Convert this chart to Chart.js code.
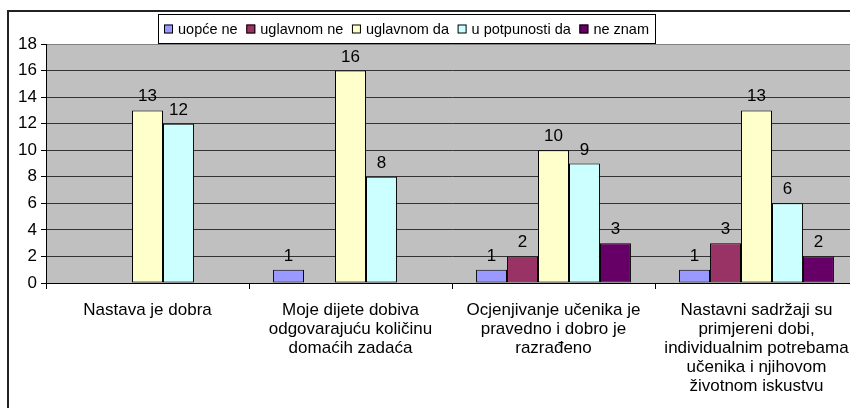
<!DOCTYPE html>
<html>
<head>
<meta charset="utf-8">
<script src="https://cdn.jsdelivr.net/npm/chart.js@4.4.1/dist/chart.umd.min.js"></script>
<style>
  html, body { margin: 0; padding: 0; background: #fff; overflow: hidden; }
  #wrap { position: absolute; left: 0; top: 0; width: 870px; height: 408px; }
</style>
</head>
<body>
<div id="wrap"><canvas id="barChart" width="870" height="408"></canvas></div>
<script>
// categories (multi line labels)
var categories = [
  ["Nastava je dobra"],
  ["Moje dijete dobiva", "odgovarajuću količinu", "domaćih zadaća"],
  ["Ocjenjivanje učenika je", "pravedno i dobro je", "razrađeno"],
  ["Nastavni sadržaji su", "primjereni dobi,", "individualnim potrebama", "učenika i njihovom", "životnom iskustvu"]
];
var seriesNames = ["uopće ne", "uglavnom ne", "uglavnom da", "u potpunosti da", "ne znam"];
var uopceNe = [null, 1, 1, 1];
var uglavnomNe = [null, null, 2, 3];
var uglavnomDa = [13, 16, 10, 13];
var uPotpunostiDa = [12, 8, 9, 6];
var neZnam = [null, null, 3, 2];
var yMax = 18;
var yStep = 2;

var colors = ["#9999FF", "#993366", "#FFFFCC", "#CCFFFF", "#660066"];
var allData = [uopceNe, uglavnomNe, uglavnomDa, uPotpunostiDa, neZnam];

Chart.defaults.font.family = "'Liberation Sans', Arial, sans-serif";
Chart.defaults.font.size = 17;
Chart.defaults.color = "#000";

var datasets = [];
for (var i = 0; i < seriesNames.length; i++) {
  datasets.push({
    label: seriesNames[i],
    data: allData[i],
    backgroundColor: colors[i],
    borderColor: "#000",
    borderWidth: 1,
    borderSkipped: false,
    categoryPercentage: 0.763,
    barPercentage: 1
  });
}

// gray plot area + white page
var bgPlugin = {
  id: "bg",
  beforeDraw: function (chart) {
    var c = chart.ctx, a = chart.chartArea;
    c.save();
    c.fillStyle = "#fff";
    c.fillRect(0, 0, chart.width, chart.height);
    c.fillStyle = "#C0C0C0";
    c.fillRect(a.left, a.top, a.right - a.left, a.bottom - a.top);
    c.restore();
  }
};

// value labels over the bars
var labelPlugin = {
  id: "valLabels",
  afterDatasetsDraw: function (chart) {
    var c = chart.ctx;
    c.save();
    c.font = "17px 'Liberation Sans', Arial, sans-serif";
    c.fillStyle = "#000";
    c.textAlign = "center";
    c.textBaseline = "alphabetic";
    chart.data.datasets.forEach(function (ds, i) {
      var meta = chart.getDatasetMeta(i);
      meta.data.forEach(function (bar, j) {
        if (ds.data[j] == null) return;
        c.fillText(ds.data[j], bar.x, bar.y - 9);
      });
    });
    c.restore();
  }
};

// outer frame and legend box
var framePlugin = {
  id: "frame",
  afterDraw: function (chart) {
    var c = chart.ctx;
    c.save();
    c.strokeStyle = "#222";
    c.lineWidth = 2;
    c.beginPath();
    c.moveTo(8, chart.height);
    c.lineTo(8, 11);
    c.lineTo(chart.width, 11);
    c.stroke();

    // legend
    var bx = 158, by = 14, bw = 497, bh = 29;
    c.fillStyle = "#fff";
    c.fillRect(bx, by, bw, bh);
    c.lineWidth = 1;
    c.strokeStyle = "#000";
    c.strokeRect(bx + 0.5, by + 0.5, bw, bh);
    c.font = "14.5px 'Liberation Sans', Arial, sans-serif";
    c.textBaseline = "middle";
    var box = 9, gapIn = 5, widths = [], total = 0;
    chart.data.datasets.forEach(function (ds) {
      var w = c.measureText(ds.label).width;
      widths.push(w);
      total += box + gapIn + w;
    });
    var gap = (bw - 12 - total) / (widths.length - 1);
    var x = bx + 6, cy = by + bh / 2 + 1;
    chart.data.datasets.forEach(function (ds, i) {
      c.fillStyle = ds.backgroundColor;
      c.fillRect(x, cy - 5, box, box);
      c.strokeRect(x + 0.5, cy - 4.5, box - 1, box - 1);
      c.fillStyle = "#000";
      c.fillText(ds.label, x + box + gapIn, cy);
      x += box + gapIn + widths[i] + gap;
    });
    c.restore();
  }
};

var chartDiv = document.getElementById("barChart");
var myChart = new Chart(chartDiv, {
  type: "bar",
  data: {
    labels: categories,
    datasets: datasets
  },
  options: {
    responsive: false,
    animation: false,
    layout: { padding: { left: 0, right: 12, top: 44, bottom: 0 } },
    plugins: {
      legend: { display: false },
      tooltip: { enabled: false }
    },
    scales: {
      x: {
        offset: true,
        grid: { display: true, drawOnChartArea: false, drawTicks: true, tickLength: 6, color: "#000", offset: true },
        border: { display: true, color: "#000", width: 1 },
        ticks: { maxRotation: 0, minRotation: 0, autoSkip: false, padding: 12, font: { size: 17, lineHeight: 1.12 } },
        afterFit: function (scale) { scale.height = 125; }
      },
      y: {
        min: 0,
        max: yMax,
        ticks: { stepSize: yStep, padding: 4, font: { size: 17 } },
        grid: {
          tickLength: 5,
          tickColor: "#000",
          color: function (ctx) { return ctx.tick && ctx.tick.value == yMax ? "#808080" : "#333"; }
        },
        border: { display: true, color: "#000", width: 1 },
        afterFit: function (scale) { scale.width = 46; }
      }
    }
  },
  plugins: [bgPlugin, labelPlugin, framePlugin]
});
</script>
</body>
</html>
